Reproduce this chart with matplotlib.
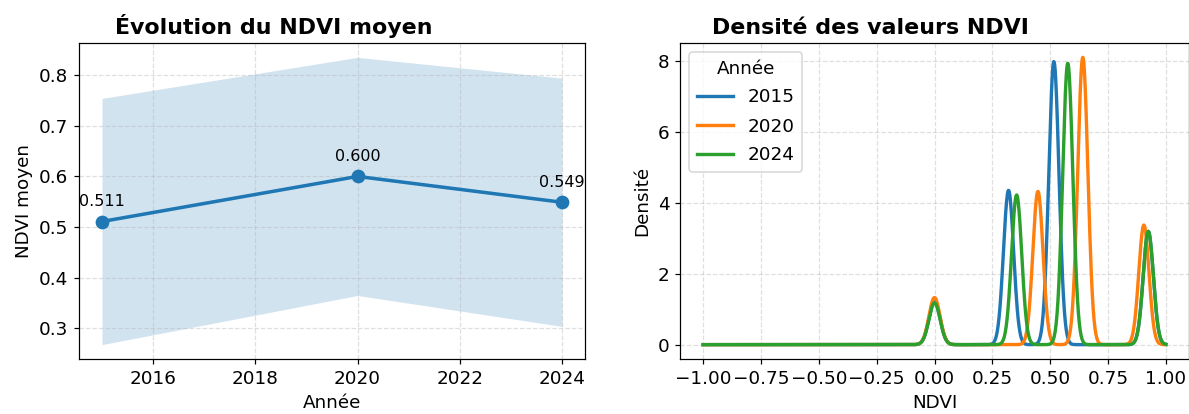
import numpy as np
import matplotlib
matplotlib.use('Agg')
import matplotlib.pyplot as plt
from matplotlib.ticker import MultipleLocator

# NDVI moyen par année (avec écart-type)
annees = [2015, 2020, 2024]
ndvi_moyen = [0.511, 0.600, 0.549]
ndvi_std = [0.243, 0.235, 0.245]

# pics de densité : centre, hauteur, largeur
centres_2015 = [0.0, 0.32, 0.516, 0.924]
hauteurs_2015 = [1.22, 4.36, 8.0, 3.2]
centres_2020 = [0.0, 0.447, 0.641, 0.905]
hauteurs_2020 = [1.33, 4.33, 8.12, 3.38]
centres_2024 = [0.0, 0.355, 0.576, 0.924]
hauteurs_2024 = [1.18, 4.23, 7.95, 3.2]
largeurs = [0.024, 0.022, 0.022, 0.022]

plt.rcParams['font.size'] = 12

fig = plt.figure(figsize=(1189 / 110, 414 / 110), dpi=110)
ax1 = fig.add_axes([79 / 1189, 1 - 359 / 414, 506 / 1189, 316 / 414])
ax2 = fig.add_axes([680 / 1189, 1 - 359 / 414, 509 / 1189, 316 / 414])

# --- évolution du NDVI moyen
moy = np.array(ndvi_moyen)
std = np.array(ndvi_std)
ax1.fill_between(annees, moy - std, moy + std, color='C0', alpha=0.2, linewidth=0)
ax1.plot(annees, ndvi_moyen, marker='o', color='C0', linewidth=2.3, markersize=8)
for a, v in zip(annees, ndvi_moyen):
    ax1.annotate(f'{v:.3f}', (a, v), textcoords='offset points', xytext=(0, 10),
                 ha='center', fontsize=10.5)
ax1.set_title('Évolution du NDVI moyen', fontsize=14.5, fontweight='bold', loc='left', x=0.071)
ax1.set_xlabel('Année')
ax1.set_ylabel('NDVI moyen')
ax1.grid(True, linestyle='--', alpha=0.4)

# --- densité des valeurs NDVI
x = np.linspace(-1, 1, 1000)
pics = {
    '2015': (centres_2015, hauteurs_2015),
    '2020': (centres_2020, hauteurs_2020),
    '2024': (centres_2024, hauteurs_2024),
}
for i, (annee, (centres, hauteurs)) in enumerate(pics.items()):
    dens = np.zeros_like(x)
    for c, h, s in zip(centres, hauteurs, largeurs):
        dens += h * np.exp(-0.5 * ((x - c) / s) ** 2)
    ax2.plot(x, dens, color=f'C{i}', linewidth=2.2, label=annee)
ax2.set_title('Densité des valeurs NDVI', fontsize=14.5, fontweight='bold', loc='left', x=0.063)
ax2.set_xlabel('NDVI')
ax2.set_ylabel('Densité')
ax2.yaxis.set_major_locator(MultipleLocator(2))
ax2.legend(title='Année', loc='upper left', labelspacing=0.6)
ax2.grid(True, linestyle='--', alpha=0.4)

fig.savefig('out.png', dpi=110)
